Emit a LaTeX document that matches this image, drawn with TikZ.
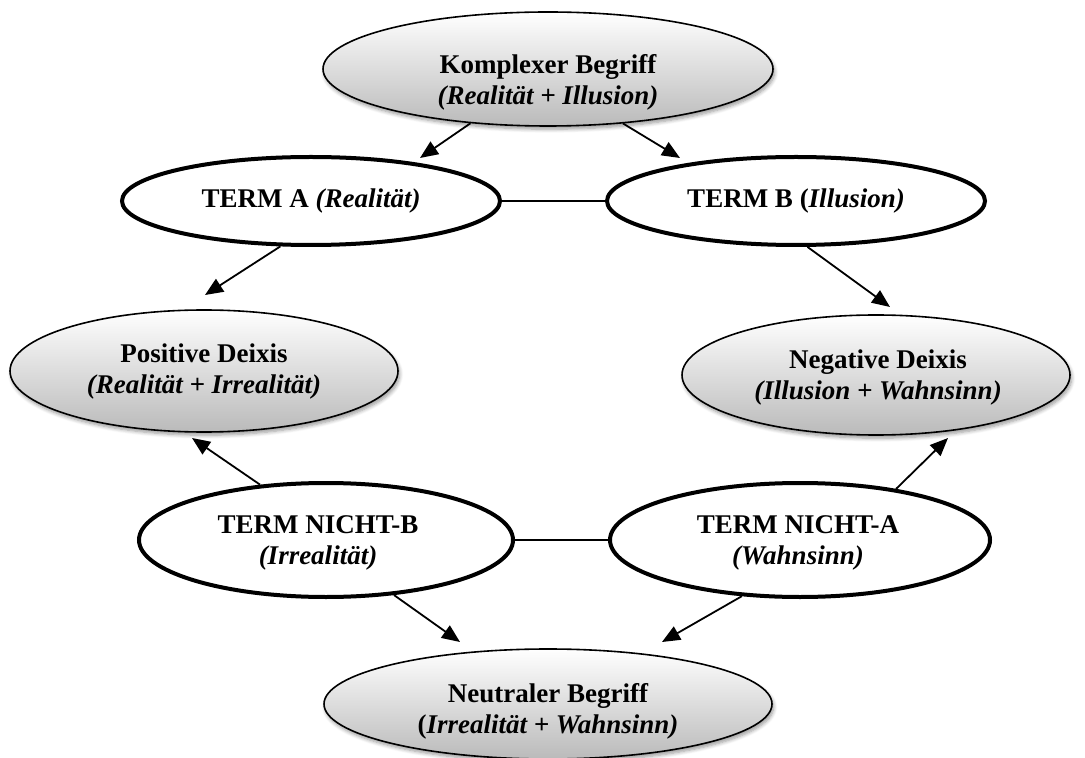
\documentclass[tikz,border=0pt]{standalone}
\usepackage{fontspec}
\setmainfont{Liberation Serif}
\usetikzlibrary{shapes.geometric,arrows.meta,shadows.blur}
\begin{document}
\begin{tikzpicture}[x=0.5pt,y=-0.5pt,
  txt/.style={inner sep=0pt, align=center, font=\fontsize{13.5}{15.5}\selectfont\bfseries},
  base/.style={ellipse, inner sep=0pt, align=center, font=\fontsize{13.5}{15.5}\selectfont\bfseries},
  grayell/.style={base, draw=black, line width=0.8pt, top color=white, bottom color=black!27,
    blur shadow={shadow xshift=0.8pt, shadow yshift=-1.6pt, shadow opacity=40, shadow blur steps=6}},
  termell/.style={base, draw=black, line width=2pt, fill=white},
  arr/.style={-{Triangle[length=9pt,width=7.5pt]}, line width=0.9pt},
  link/.style={line width=0.9pt}]
\useasboundingbox (0,0) rectangle (1085,758);

\node[grayell, minimum width=225pt, minimum height=57pt] (KB) at (548,69) {};
\node[txt] (KBtext) at (548,82) {Komplexer Begriff\\\textit{(Realität + Illusion)}};
\node[termell, minimum width=189pt, minimum height=44pt] (TA) at (311,201)
  {TERM A \textit{(Realität)}};
\node[termell, minimum width=189pt, minimum height=44pt] (TB) at (796,201)
  {TERM B (\textit{Illusion)}};
\node[grayell, minimum width=194pt, minimum height=61pt] (PD) at (204,371) {};
\node[txt] (PDtext) at (204,372) {Positive Deixis\\\textit{(Realität + Irrealität)}};
\node[grayell, minimum width=194pt, minimum height=60pt] (ND) at (876,375) {};
\node[txt] (NDtext) at (878,378) {Negative Deixis\\\textit{(Illusion + Wahnsinn)}};
\node[termell, minimum width=187pt, minimum height=57pt] (NB) at (326,540) {};
\node[txt] (NBtext) at (318,543) {TERM NICHT-B\\\textit{(Irrealität)}};
\node[termell, minimum width=190pt, minimum height=57pt] (NA) at (800,540) {};
\node[txt] (NAtext) at (798,543) {TERM NICHT-A\\\textit{(Wahnsinn)}};
\node[grayell, minimum width=224pt, minimum height=55pt] (NT) at (548,704) {};
\node[txt] (NTtext) at (548,711) {Neutraler Begriff\\(\textit{Irrealität + Wahnsinn)}};

\coordinate (tKA) at (420,158);
\coordinate (tKB) at (680,158);
\coordinate (tAP) at (205,295);
\coordinate (tBN) at (890,307);
\coordinate (tNBP) at (192,438);
\coordinate (tNAN) at (948,438);
\coordinate (tNBT) at (460,642);
\coordinate (tNAT) at (662,642);

\draw[arr] (KB.215.8) -- (tKA);
\draw[arr] (KB.324.2) -- (tKB);
\draw[arr] (TA.236.3) -- (tAP);
\draw[arr] (TB.284) -- (tBN);
\draw[arr] (NB.140.1) -- (tNBP);
\draw[arr] (NA.28.5) -- (tNAN);
\draw[arr] (NB.321.1) -- (tNBT);
\draw[arr] (NA.224.8) -- (tNAT);

\draw[link] (TA.east) -- (TB.west);
\draw[link] (NB.east) -- (NA.west);
\end{tikzpicture}
\end{document}
